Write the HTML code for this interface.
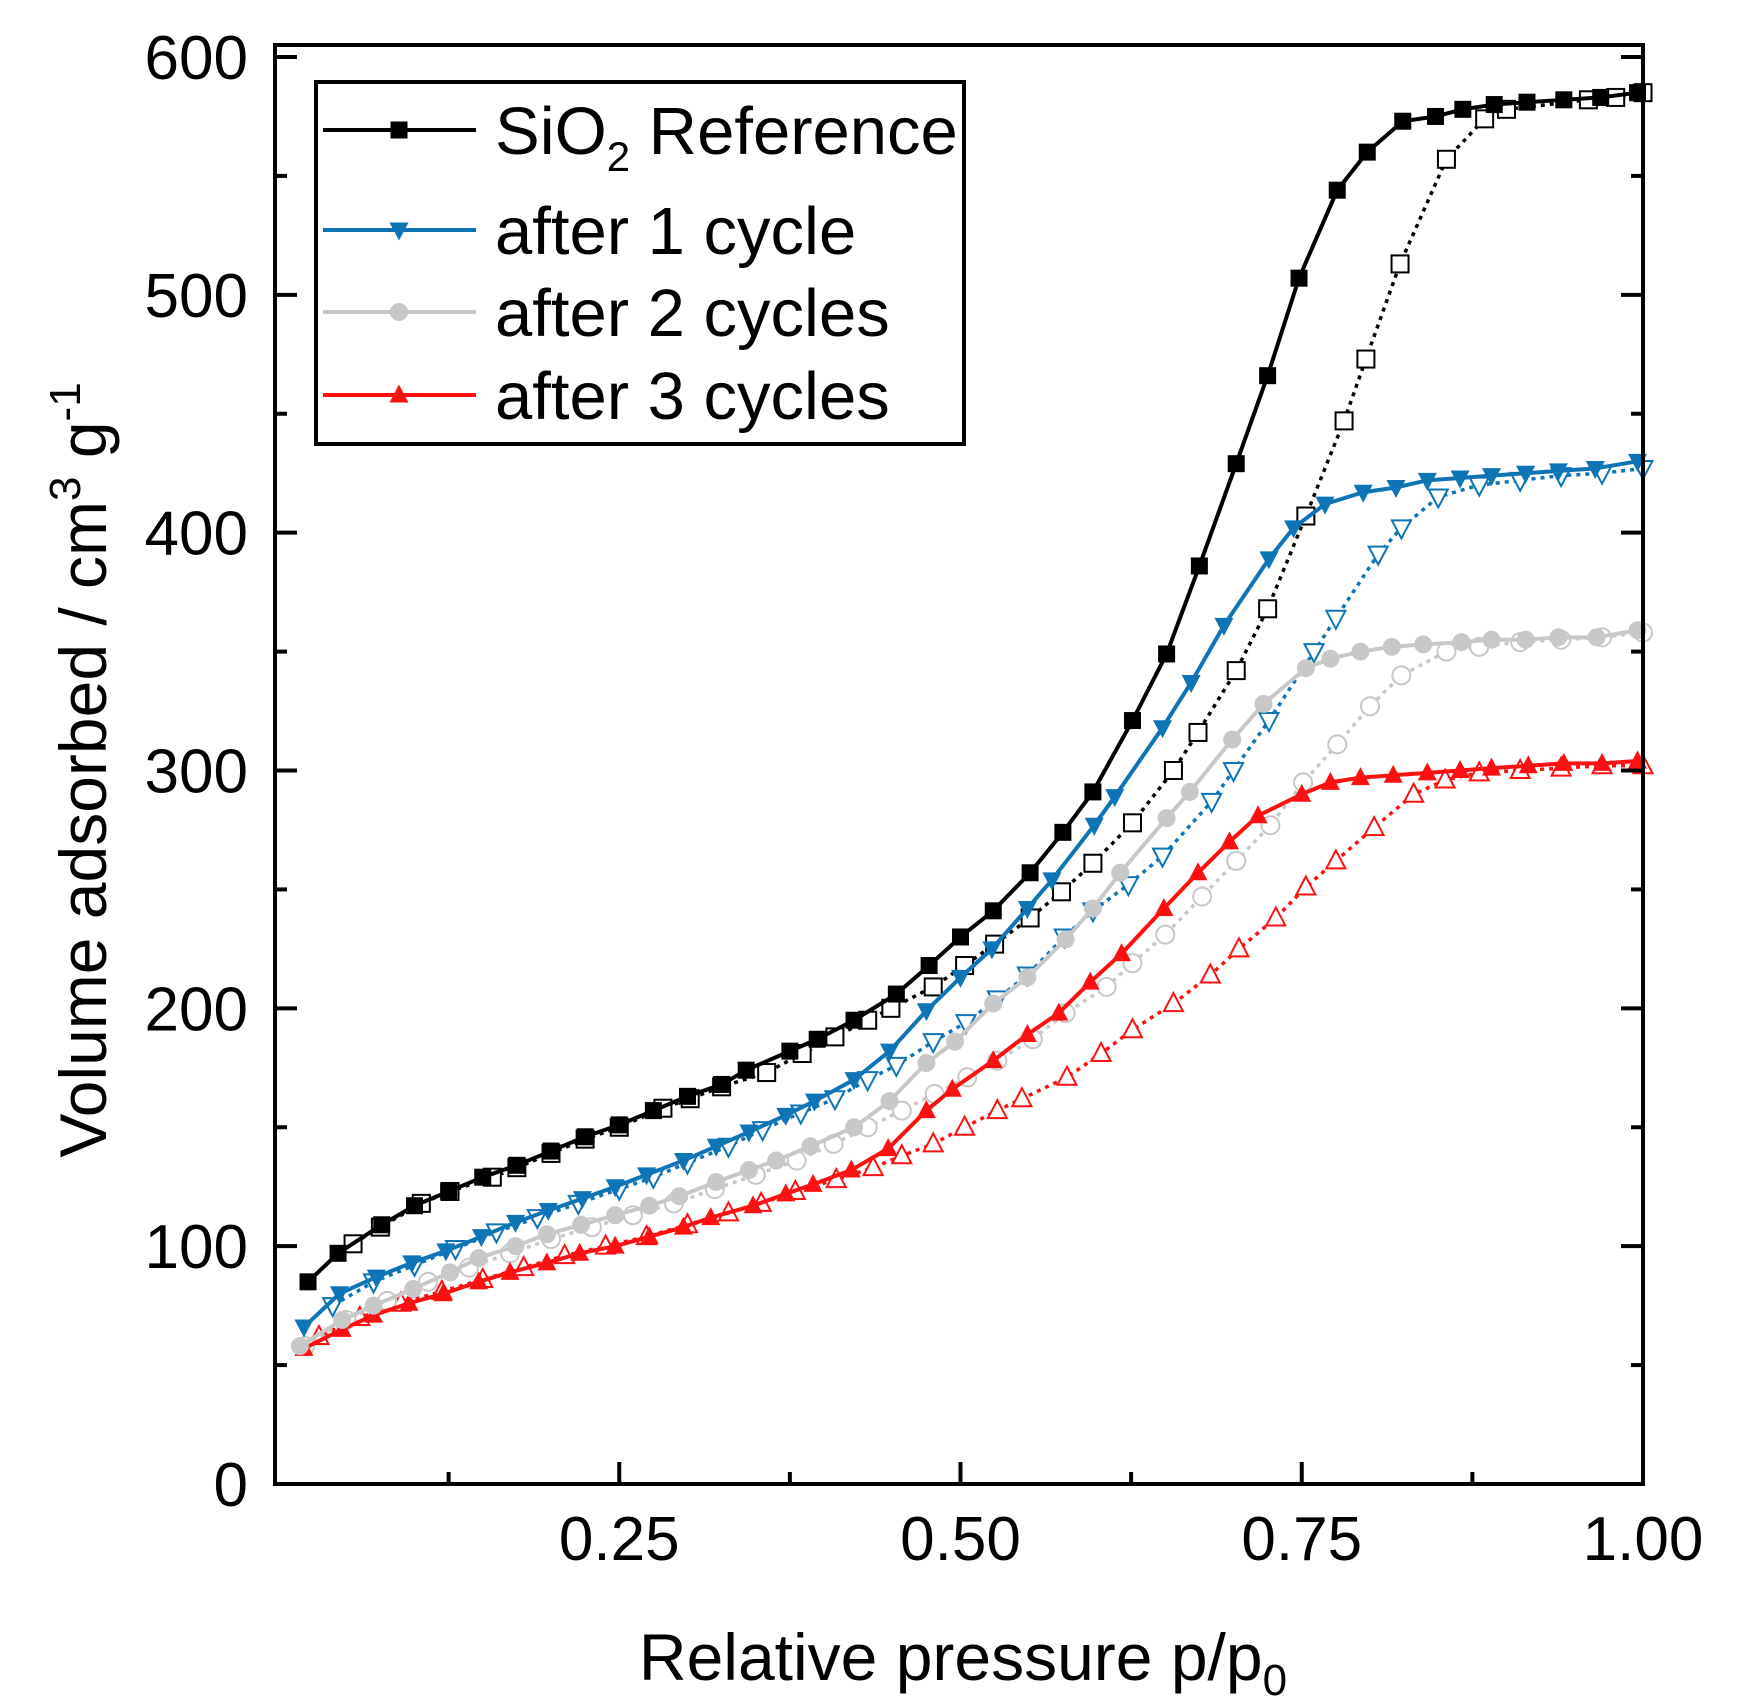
<!DOCTYPE html>
<html><head><meta charset="utf-8"><style>
html,body{margin:0;padding:0;background:#fff;}
svg{display:block;font-family:"Liberation Sans",Arial,sans-serif;}
</style></head><body>
<svg id="chart" width="1764" height="1706" viewBox="0 0 1764 1706" xmlns="http://www.w3.org/2000/svg">
<rect x="0" y="0" width="1764" height="1706" fill="#fff"/>
<g id="series"></g>
<g id="axes"></g>
<text x="963" y="1680" font-size="66" text-anchor="middle">Relative pressure p/p<tspan font-size="44" dy="15">0</tspan></text>
<text transform="translate(106,770) rotate(-90)" font-size="66" text-anchor="middle">Volume adsorbed / cm<tspan font-size="44" dy="-26">3</tspan><tspan dy="26"> g</tspan><tspan font-size="44" dy="-26">-1</tspan></text>
<g id="legend">
<rect x="316" y="82" width="648" height="362" fill="#fff" stroke="#000" stroke-width="4"/>
</g>
</svg>
<script>
const xAds = [0.022,0.044,0.076,0.1,0.125,0.15,0.175,0.2,0.225,0.25,0.275,0.3,0.325,0.343,0.375,0.395,0.422,0.453,0.477,0.5,0.524,0.551,0.575,0.597,0.626,0.651,0.675,0.702,0.725,0.748,0.776,0.798,0.824,0.848,0.868,0.891,0.915,0.942,0.969,0.996];
const refAds = [85,97,109,117,123,129,134,140,146,151,157,163,168,174,182,187,195,206,218,230,241,257,274,291,321,349,386,429,466,507,544,560,573,575,578,580,581,582,583,585];
const xDesRef = [1.0,0.98,0.96,0.9,0.884,0.856,0.822,0.797,0.781,0.753,0.725,0.702,0.674,0.656,0.626,0.597,0.574,0.551,0.525,0.503,0.48,0.449,0.432,0.408,0.384,0.358,0.325,0.302,0.282,0.25,0.225,0.2,0.175,0.157,0.126,0.105,0.075,0.055];
const refDes = [585,583,582,578,574,557,513,473,447,407,368,342,316,300,278,261,249,238,227,218,209,200,195,188,181,173,167,162,158,150,145,139,133,129,123,118,108,101];

const xC1Ads = [0.019,0.045,0.072,0.098,0.123,0.149,0.174,0.198,0.223,0.247,0.27,0.297,0.321,0.345,0.372,0.393,0.422,0.448,0.475,0.5,0.523,0.549,0.567,0.598,0.613,0.648,0.669,0.693,0.726,0.744,0.767,0.795,0.819,0.842,0.866,0.889,0.914,0.938,0.965,0.996];
const c1Ads = [66,80,87,93,98,104,110,115,120,125,130,136,142,148,155,161,170,182,199,213,225,242,254,277,289,318,337,361,389,402,412,417,419,422,423,424,425,426,427,430];
const xC1Des = [1.0,0.97,0.94,0.91,0.88,0.85,0.823,0.806,0.775,0.759,0.726,0.7,0.684,0.648,0.623,0.597,0.576,0.549,0.527,0.504,0.48,0.453,0.432,0.408,0.383,0.355,0.33,0.3,0.275,0.25,0.22,0.19,0.16,0.13,0.1,0.07,0.04];
const c1Des = [427,425,424,422,420,415,402,391,364,350,321,300,287,264,252,241,230,214,204,194,186,176,170,162,156,149,142,135,129,124,118,112,106,99,92,85,75];

const xC2Ads = [0.016,0.047,0.07,0.099,0.126,0.147,0.174,0.197,0.222,0.247,0.272,0.294,0.321,0.345,0.365,0.39,0.422,0.448,0.475,0.496,0.524,0.549,0.577,0.597,0.617,0.651,0.668,0.699,0.722,0.753,0.771,0.793,0.816,0.839,0.867,0.889,0.914,0.938,0.966,0.996];
const c2Ads = [58,69,75,82,89,95,100,105,109,113,117,121,127,132,136,142,150,161,177,186,202,213,229,242,257,280,291,313,328,343,347,350,352,353,354,355,355,356,356,359];
const xC2Des = [1.0,0.97,0.94,0.91,0.88,0.856,0.823,0.8,0.776,0.751,0.727,0.702,0.677,0.65,0.626,0.607,0.577,0.553,0.527,0.505,0.481,0.457,0.432,0.407,0.38,0.35,0.32,0.29,0.26,0.23,0.2,0.17,0.14,0.11,0.08,0.05,0.02];
const c2Des = [358,356,355,354,352,350,340,327,311,295,277,262,247,231,219,209,198,187,178,171,164,157,150,143,136,130,124,118,113,108,103,97,91,85,77,69,58];

const xC3Ads = [0.019,0.047,0.07,0.096,0.121,0.147,0.17,0.197,0.221,0.247,0.272,0.297,0.317,0.348,0.372,0.392,0.42,0.447,0.475,0.494,0.524,0.549,0.572,0.595,0.618,0.649,0.674,0.697,0.718,0.75,0.771,0.793,0.817,0.842,0.866,0.889,0.916,0.942,0.97,0.996];
const c3Ads = [57,65,71,76,80,85,89,93,97,100,104,108,112,117,122,126,132,141,157,166,178,189,198,211,223,242,257,270,281,290,295,297,298,299,300,301,302,303,303,304];
const xC3Des = [1.0,0.97,0.94,0.91,0.88,0.855,0.832,0.803,0.775,0.753,0.731,0.704,0.683,0.656,0.626,0.603,0.578,0.545,0.527,0.503,0.48,0.457,0.436,0.409,0.379,0.354,0.33,0.3,0.27,0.24,0.21,0.18,0.15,0.12,0.09,0.06,0.03];
const c3Des = [302,302,301,300,299,296,290,276,262,251,238,225,214,202,191,181,171,162,157,150,143,138,133,128,123,118,114,109,104,100,96,91,86,81,76,70,62];

const xTicks = [0.25,0.5,0.75,1.0];
const xTickLabels = ["0.25","0.50","0.75","1.00"];
const yTicks = [0,100,200,300,400,500,600];
const yTickLabels = ["0","100","200","300","400","500","600"];

const L=275,R=1643,T=45,B=1484;
function xs(v){return 278+v*(1643-278);}
function ys(v){return 1484-v*(1484-57)/600;}
const NS="http://www.w3.org/2000/svg";
function mk(tag,attrs,parent){const e=document.createElementNS(NS,tag);for(const k in attrs)e.setAttribute(k,attrs[k]);parent.appendChild(e);return e;}

const axes=document.getElementById('axes');
const series=document.getElementById('series');

function marker(kind,x,y,color,filled,parent,name){
  const s=8.5;let e;
  const fill=filled?color:'#fff';
  if(kind==='square'){e=mk('rect',{x:x-s,y:y-s,width:2*s,height:2*s,fill:fill,stroke:color,'stroke-width':filled?0:2},parent);}
  else if(kind==='circle'){e=mk('circle',{cx:x,cy:y,r:s+0.5,fill:fill,stroke:color,'stroke-width':filled?0:2},parent);}
  else if(kind==='down'){e=mk('polygon',{points:`${x-s-1},${y-s+1} ${x+s+1},${y-s+1} ${x},${y+s+2}`,fill:fill,stroke:color,'stroke-width':filled?0:2},parent);}
  else {e=mk('polygon',{points:`${x-s-1},${y+s-1} ${x+s+1},${y+s-1} ${x},${y-s-2}`,fill:fill,stroke:color,'stroke-width':filled?0:2},parent);}
  
  
}
function drawSeries(xsArr,vals,color,kind,filled,dotted,name){
  const g=mk('g',{},series);
  
  
  const pts=xsArr.map((x,i)=>xs(x)+','+ys(vals[i])).join(' ');
  const pl=mk('polyline',{points:pts,fill:'none',stroke:color,'stroke-width':dotted?3.5:4,'stroke-dasharray':dotted?'4,5':'none','stroke-linejoin':'round'},g);
  
  
  xsArr.forEach((x,i)=>marker(kind,xs(x),ys(vals[i]),color,filled,g,name+'-point'));
}
const BLUE='#0e74b6',GRAY='#c8c8c8',RED='#ff1010';
drawSeries(xC3Des,c3Des,RED,'up',false,true,'after-3-cycles-desorption');
drawSeries(xC2Des,c2Des,GRAY,'circle',false,true,'after-2-cycles-desorption');
drawSeries(xC1Des,c1Des,BLUE,'down',false,true,'after-1-cycle-desorption');
drawSeries(xDesRef,refDes,'#000','square',false,true,'sio2-reference-desorption');
drawSeries(xC3Ads,c3Ads,RED,'up',true,false,'after-3-cycles-adsorption');
drawSeries(xC2Ads,c2Ads,GRAY,'circle',true,false,'after-2-cycles-adsorption');
drawSeries(xC1Ads,c1Ads,BLUE,'down',true,false,'after-1-cycle-adsorption');
drawSeries(xAds,refAds,'#000','square',true,false,'sio2-reference-adsorption');

const fr=mk('rect',{x:L,y:T,width:R-L,height:B-T,fill:'none',stroke:'#000','stroke-width':4},axes);


for(let v=0;v<=600;v+=50){
  const y=ys(v);const len=(v%100===0)?22:12;
  const a=mk('line',{x1:L,x2:L+len,y1:y,y2:y,stroke:'#000','stroke-width':4},axes);
  
  
  const b=mk('line',{x1:R,x2:R-len,y1:y,y2:y,stroke:'#000','stroke-width':4},axes);
  
  
}
yTicks.forEach((v,i)=>{
  const t=mk('text',{x:248,y:ys(v)+22,'font-size':62,'text-anchor':'end'},axes);
  t.textContent=yTickLabels[i];
  
  
});
for(let k=1;k<=8;k++){
  const v=k*0.125;const x=xs(v);const len=(k%2===0)?22:12;
  const a=mk('line',{x1:x,x2:x,y1:B,y2:B-len,stroke:'#000','stroke-width':4},axes);
  
  
}
xTicks.forEach((v,i)=>{
  const t=mk('text',{x:xs(v),y:1560,'font-size':62,'text-anchor':'middle'},axes);
  t.textContent=xTickLabels[i];
  
  
});
const legend=document.getElementById('legend');
const entries=[["SiO","#000","square",130],["after 1 cycle",BLUE,"down",230],["after 2 cycles",GRAY,"circle",312],["after 3 cycles",RED,"up",395]];
entries.forEach((e,i)=>{
  const g=mk('g',{},legend);
  
  
  const ln=mk('line',{x1:323,x2:476,y1:e[3],y2:e[3],stroke:e[1],'stroke-width':4},g);
  
  
  marker(e[2],399,e[3],e[1],true,g,'legend-marker');
  const t=mk('text',{x:495,y:e[3]+24,'font-size':67},g);
  
  
  if(i===0){
    t.textContent='SiO';
    const s=mk('tspan',{'font-size':42,dy:17},t);s.textContent='2';
    const r=mk('tspan',{dy:-17},t);r.textContent=' Reference';
  } else t.textContent=e[0];
});
</script>
</body></html>
